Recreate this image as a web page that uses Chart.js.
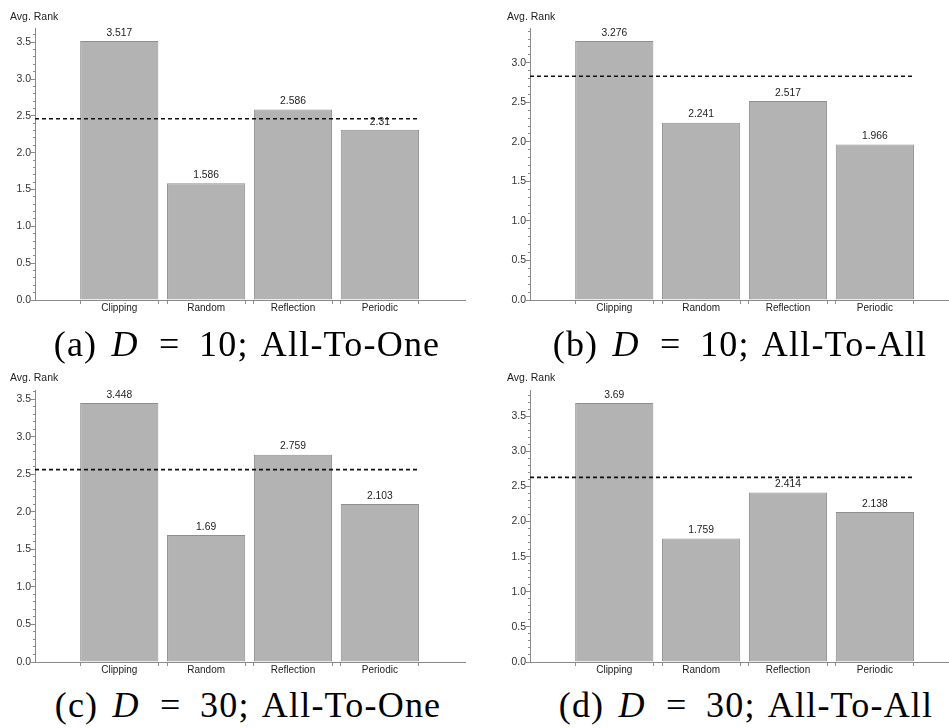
<!DOCTYPE html>
<html>
<head>
<meta charset="utf-8">
<script src="https://cdn.jsdelivr.net/npm/chart.js@4.4.1/dist/chart.umd.min.js"></script>
<style>
    html, body { margin: 0; padding: 0; background: #fff; }
    body { width: 949px; height: 728px; overflow: hidden; position: relative; }
    canvas { position: absolute; }
    .ylab { position: absolute; font: 10.5px "Liberation Sans", Arial, sans-serif; color: #222; white-space: nowrap; }
    .cap { position: absolute; width: 480px; text-align: center; font: 36px "Liberation Serif", "Times New Roman", serif;
           line-height: 36px; color: #000; white-space: nowrap; letter-spacing: 1.2px; word-spacing: 4px; }
    .cap i { margin-right: 2px; }
</style>
</head>
<body>
<canvas id="chartA" width="480" height="320" style="left:0;top:0"></canvas>
<canvas id="chartB" width="480" height="320" style="left:495px;top:0"></canvas>
<canvas id="chartC" width="480" height="320" style="left:0;top:362px"></canvas>
<canvas id="chartD" width="480" height="320" style="left:495px;top:362px"></canvas>

<div class="ylab" style="left:10px;top:10px">Avg. Rank</div>
<div class="ylab" style="left:507px;top:10px">Avg. Rank</div>
<div class="ylab" style="left:10px;top:371px">Avg. Rank</div>
<div class="ylab" style="left:507px;top:371px">Avg. Rank</div>

<div class="cap" style="left:7px;top:326px">(a) <i>D</i> &#8202;=&#8202; 10; All-To-One</div>
<div class="cap" style="left:500px;top:326px">(b) <i>D</i> &#8202;=&#8202; 10; All-To-All</div>
<div class="cap" style="left:8px;top:687px">(c) <i>D</i> &#8202;=&#8202; 30; All-To-One</div>
<div class="cap" style="left:506px;top:687px">(d) <i>D</i> &#8202;=&#8202; 30; All-To-All</div>

<script>
// values
const categories = ['Clipping', 'Random', 'Reflection', 'Periodic'];
const valuesA = [3.517, 1.586, 2.586, 2.31];
const valuesB = [3.276, 2.241, 2.517, 1.966];
const valuesC = [3.448, 1.69, 2.759, 2.103];
const valuesD = [3.69, 1.759, 2.414, 2.138];
// dashed reference line of each panel
const refLines = [2.46, 2.83, 2.56, 2.63];

const barFill = '#b3b3b3';
const barEdge = '#8e8e8e';
const axisGray = '#8a8a8a';
const textColor = '#222';
const font = { family: 'Liberation Sans', size: 10 };

const barHalf = 0.45;
const xMin = 0.03, xMax = 4.98;

// value label above each bar
const valueLabels = {
    id: 'valueLabels',
    afterDatasetsDraw(chart) {
        const ctx = chart.ctx;
        const meta = chart.getDatasetMeta(0);
        const data = chart.data.datasets[0].data;
        ctx.save();
        ctx.fillStyle = textColor;
        ctx.font = '10.3px "Liberation Sans"';
        ctx.textAlign = 'center';
        ctx.textBaseline = 'bottom';
        meta.data.forEach(function(bar, i) {
            ctx.fillText(String(data[i].y), bar.x, bar.y - 3);
        });
        ctx.restore();
    }
};

function makeChart(id, values, ref) {
    const ctx = document.getElementById(id).getContext('2d');
    const positions = categories.map(function(c, i) { return i + 1; });
    const edges = [];
    positions.forEach(function(p) { edges.push(p - barHalf, p + barHalf); });
    const yMax = Math.max.apply(null, values) * 1.05;

    new Chart(ctx, {
        type: 'bar',
        data: {
            datasets: [
                {
                    type: 'bar',
                    data: values.map(function(v, i) { return { x: positions[i], y: v }; }),
                    backgroundColor: barFill,
                    borderColor: barEdge,
                    borderWidth: 1,
                    barPercentage: 0.9,
                    categoryPercentage: 1.0,
                    order: 1
                },
                {
                    type: 'line',
                    data: [{ x: xMin, y: ref }, { x: positions[positions.length - 1] + barHalf, y: ref }],
                    borderColor: '#111',
                    borderWidth: 1.6,
                    borderDash: [4, 3],
                    pointRadius: 0,
                    fill: false,
                    order: 0
                }
            ]
        },
        options: {
            responsive: false,
            devicePixelRatio: 1,
            animation: false,
            layout: { padding: { left: 0, top: 28, right: 480 - 35 - 430, bottom: 0 } },
            plugins: {
                legend: { display: false },
                tooltip: { enabled: false }
            },
            scales: {
                x: {
                    type: 'linear',
                    position: 'bottom',
                    weight: 1,
                    min: xMin,
                    max: xMax,
                    offset: false,
                    grid: { display: false, drawTicks: false },
                    border: { display: true, color: axisGray, width: 1 },
                    afterBuildTicks: function(axis) {
                        axis.ticks = positions.map(function(p) { return { value: p }; });
                    },
                    afterFit: function(axis) { axis.height = 20; },
                    ticks: {
                        color: textColor,
                        font: font,
                        padding: 2,
                        maxRotation: 0,
                        autoSkip: false,
                        callback: function(v, i) { return categories[i]; }
                    }
                },
                xEdges: {
                    type: 'linear',
                    position: 'bottom',
                    weight: 0,
                    min: xMin,
                    max: xMax,
                    offset: false,
                    grid: { display: true, drawOnChartArea: false, tickLength: 4, color: barEdge, offset: false },
                    border: { display: false },
                    afterBuildTicks: function(axis) {
                        axis.ticks = edges.map(function(e) { return { value: e }; });
                    },
                    afterFit: function(axis) { axis.height = 0; },
                    ticks: { display: false }
                },
                y: {
                    type: 'linear',
                    position: 'left',
                    weight: 1,
                    min: 0,
                    max: yMax,
                    grid: { display: true, drawOnChartArea: false, tickLength: 4, color: axisGray },
                    border: { display: true, color: axisGray, width: 1 },
                    afterFit: function(axis) { axis.width = 35; },
                    ticks: {
                        stepSize: 0.5,
                        includeBounds: false,
                        color: '#333',
                        font: { family: 'Liberation Sans', size: 10.5 },
                        padding: 0,
                        callback: function(v) { return v.toFixed(1); }
                    }
                },
                yMinor: {
                    type: 'linear',
                    position: 'left',
                    weight: 0,
                    min: 0,
                    max: yMax,
                    grid: { display: true, drawOnChartArea: false, tickLength: 2, color: axisGray },
                    border: { display: false },
                    afterFit: function(axis) { axis.width = 0; },
                    ticks: { stepSize: 0.1, includeBounds: false, display: false }
                }
            }
        },
        plugins: [valueLabels]
    });
}

document.addEventListener('DOMContentLoaded', function() {
    makeChart('chartA', valuesA, refLines[0]);
    makeChart('chartB', valuesB, refLines[1]);
    makeChart('chartC', valuesC, refLines[2]);
    makeChart('chartD', valuesD, refLines[3]);
});
</script>
</body>
</html>
